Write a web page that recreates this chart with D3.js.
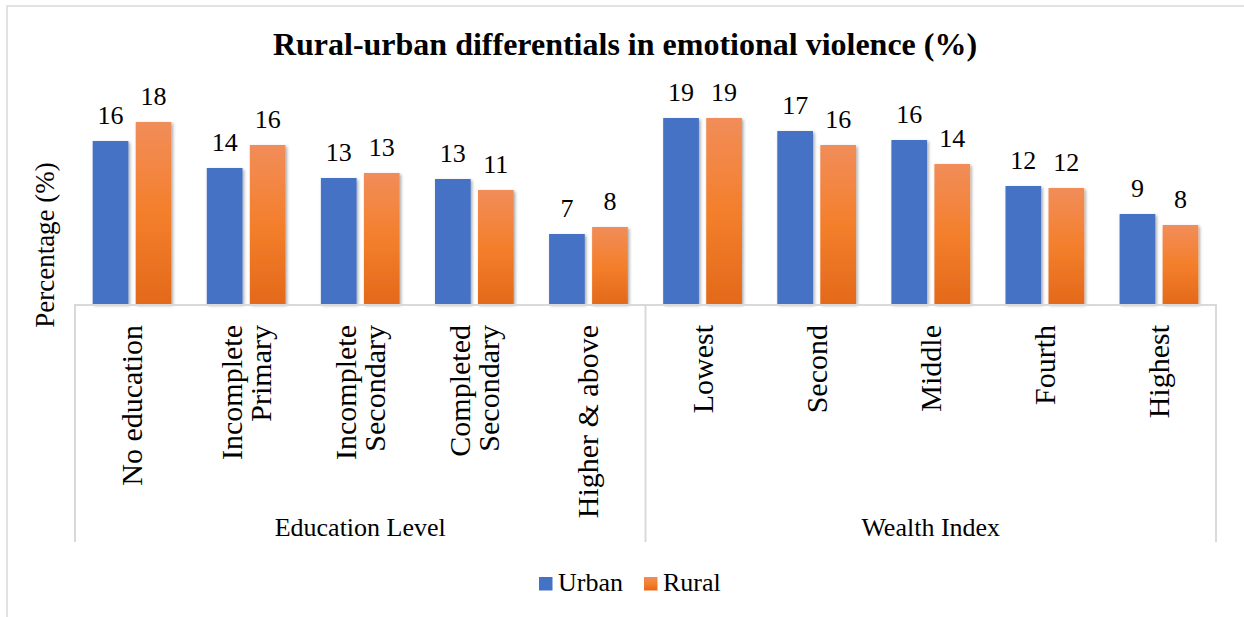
<!DOCTYPE html>
<html><head><meta charset="utf-8">
<script src="https://cdn.jsdelivr.net/npm/d3@7"></script>
<style>
html,body{margin:0;padding:0;background:#fff;}
</style></head>
<body>
<svg id="chart" width="1244" height="617" font-family="'Liberation Serif', Tinos, 'Times New Roman', Times, 'DejaVu Serif', serif"></svg>
<script>
// ---- data ----
const groups = ["Education Level", "Wealth Index"];
const educationCategories = ["No education", "Incomplete Primary", "Incomplete Secondary", "Completed Secondary", "Higher & above"];
const wealthCategories = ["Lowest", "Second", "Middle", "Fourth", "Highest"];
const categoryLabelLines = {
  "No education": ["No education"],
  "Incomplete Primary": ["Incomplete", "Primary"],
  "Incomplete Secondary": ["Incomplete", "Secondary"],
  "Completed Secondary": ["Completed", "Secondary"],
  "Higher & above": ["Higher & above"],
  "Lowest": ["Lowest"], "Second": ["Second"], "Middle": ["Middle"], "Fourth": ["Fourth"], "Highest": ["Highest"]
};
const seriesNames = ["Urban", "Rural"];
const urbanValues = [16.3, 13.6, 12.6, 12.5, 7.0, 18.6, 17.3, 16.4, 11.8, 9.0];
const ruralValues = [18.2, 15.9, 13.1, 11.4, 7.7, 18.6, 15.9, 14.0, 11.6, 7.9];
const title = "Rural-urban differentials in emotional violence (%)";
const yTitle = "Percentage (%)";

const categories = educationCategories.concat(wealthCategories);
const rows = categories.map((c, i) => ({
  category: c,
  group: i < educationCategories.length ? groups[0] : groups[1],
  Urban: urbanValues[i], Rural: ruralValues[i]
}));

// ---- layout ----
const FONT = "'Liberation Serif', Tinos, 'Times New Roman', Times, 'DejaVu Serif', serif";
const svg = d3.select("#chart");
const plotLeft = 75, plotRight = 1216, baseY = 304, topY = 104, axisBottom = 542;

const x0 = d3.scaleBand().domain(categories).range([plotLeft, plotRight])
  .paddingInner(0.31).paddingOuter(0.155);
const x1 = d3.scaleBand().domain(seriesNames).range([0, x0.bandwidth()]).paddingInner(0.17);
const y = d3.scaleLinear().domain([0, 20]).range([baseY, topY]);

const defs = svg.append("defs");
const og = defs.append("linearGradient").attr("id", "orangeGrad").attr("x1", 0).attr("y1", 0).attr("x2", 0).attr("y2", 1);
og.append("stop").attr("offset", "0%").attr("stop-color", "#F18D59");
og.append("stop").attr("offset", "50%").attr("stop-color", "#F47F2C");
og.append("stop").attr("offset", "100%").attr("stop-color", "#E3691A");
const flt = defs.append("filter").attr("id", "shadow").attr("x", "-20%").attr("y", "-10%").attr("width", "150%").attr("height", "130%");
flt.append("feDropShadow").attr("dx", 1.5).attr("dy", 1.5).attr("stdDeviation", 1.8)
  .attr("flood-color", "#000").attr("flood-opacity", 0.35);

const color = {Urban: "#4472C4", Rural: "url(#orangeGrad)"};

// outer border (clipped at right/bottom like the reference)
svg.append("rect").attr("x", 7).attr("y", 6).attr("width", 1260).attr("height", 640)
  .attr("fill", "none").attr("stroke", "#D9D9D9").attr("stroke-width", 1.5);

// title
svg.append("text").attr("x", 625).attr("y", 55).attr("text-anchor", "middle")
  .attr("font-family", FONT)
  .attr("font-size", 32).attr("font-weight", "bold").attr("fill", "#000").text(title);

// y-axis title
svg.append("text").attr("transform", "translate(54,245) rotate(-90)")
  .attr("font-family", FONT)
  .attr("text-anchor", "middle").attr("font-size", 27).attr("fill", "#000").text(yTitle);

// bars
const gCat = svg.append("g").selectAll("g").data(rows).join("g")
  .attr("transform", d => `translate(${x0(d.category)},0)`);
gCat.selectAll("rect").data(d => seriesNames.map(s => ({s, v: d[s]}))).join("rect")
  .attr("x", d => x1(d.s)).attr("width", x1.bandwidth())
  .attr("y", d => y(d.v)).attr("height", d => y(0) - y(d.v))
  .attr("fill", d => color[d.s]).attr("filter", "url(#shadow)");
gCat.selectAll("text.val").data(d => seriesNames.map(s => ({s, v: d[s]}))).join("text")
  .attr("class", "val").attr("font-family", FONT)
  .attr("x", d => x1(d.s) + x1.bandwidth() / 2).attr("y", d => y(d.v) - 17)
  .attr("text-anchor", "middle").attr("font-size", 26).attr("fill", "#000")
  .text(d => Math.round(d.v));

// category axis box
const axisColor = "#D9D9D9";
svg.append("line").attr("x1", plotLeft).attr("x2", plotRight).attr("y1", baseY + 1).attr("y2", baseY + 1)
  .attr("stroke", axisColor).attr("stroke-width", 2);
const groupBounds = [
  [plotLeft, x0(educationCategories[4]) + x0.bandwidth() + x0.step() * x0.paddingInner() / 2],
  [x0(wealthCategories[0]) - x0.step() * x0.paddingInner() / 2, plotRight]
];
const dividers = [plotLeft, groupBounds[0][1], plotRight];
svg.selectAll("line.div").data(dividers).join("line").attr("class", "div")
  .attr("x1", d => d).attr("x2", d => d).attr("y1", baseY).attr("y2", axisBottom)
  .attr("stroke", axisColor).attr("stroke-width", 2);

// category labels (rotated)
const lineGap = 29;
const catLab = svg.append("g").selectAll("text").data(categories).join("text")
  .attr("font-family", FONT)
  .attr("transform", d => {
    const n = categoryLabelLines[d].length;
    const cx = x0(d) + x0.bandwidth() / 2;
    return `translate(${cx - (n - 1) * lineGap / 2 + 10},325) rotate(-90)`;
  })
  .attr("text-anchor", "end").attr("font-size", 30).attr("fill", "#000");
catLab.selectAll("tspan").data(d => categoryLabelLines[d]).join("tspan")
  .attr("x", 0).attr("y", (d, i) => i * lineGap).text(d => d);

// group labels
svg.selectAll("text.grp").data(groups).join("text").attr("class", "grp")
  .attr("font-family", FONT)
  .attr("x", (d, i) => (groupBounds[i][0] + groupBounds[i][1]) / 2).attr("y", 536)
  .attr("text-anchor", "middle").attr("font-size", 26).attr("fill", "#000").text(d => d);

// legend
const legend = svg.append("g");
const legendItems = [{name: "Urban", x: 539}, {name: "Rural", x: 644}];
legend.selectAll("rect").data(legendItems).join("rect")
  .attr("x", d => d.x).attr("y", 577).attr("width", 13.5).attr("height", 13.5)
  .attr("fill", d => color[d.name]);
legend.selectAll("text").data(legendItems).join("text")
  .attr("font-family", FONT)
  .attr("x", d => d.x + 19).attr("y", 591).attr("font-size", 26).attr("fill", "#000").text(d => d.name);
</script>
</body></html>
